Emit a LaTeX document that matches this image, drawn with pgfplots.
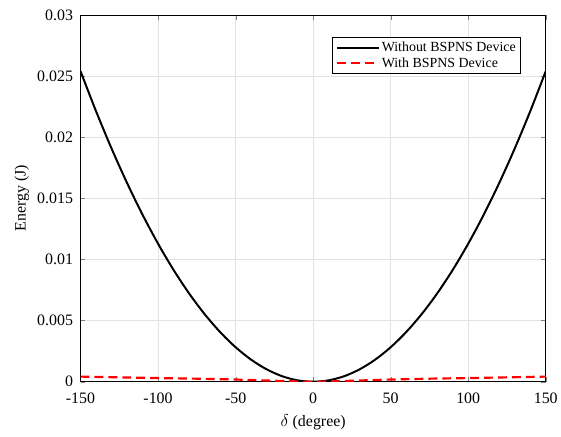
\documentclass[border=0pt]{standalone}
\usepackage{fontspec}
\setmainfont{Liberation Serif}
\usepackage{pgfplots}
\pgfplotsset{compat=1.18}

\begin{document}
\begin{tikzpicture}
  \begin{axis}[
    name=main,
    scale only axis,
    width=468pt, height=369pt,
    xmin=-150, xmax=150,
    ymin=0, ymax=0.03,
    xtick={-150,-100,...,150},
    ytick={0,0.005,...,0.03},
    yticklabels={0,0.005,0.01,0.015,0.02,0.025,0.03},
    /pgf/number format/assume math mode=true,
    tick label style={font=\fontsize{16}{18}\selectfont},
    xticklabel style={yshift=-8pt},
    yticklabel style={xshift=-4pt},
    xlabel={$\delta$ (degree)},
    ylabel={Energy (J)},
    every axis x label/.style={at={(axis description cs:0.5,0)}, anchor=center,
      yshift=-41pt, font=\fontsize{16}{18}\selectfont},
    every axis y label/.style={at={(axis description cs:0,0.5)}, rotate=90, anchor=center,
      yshift=59pt, font=\fontsize{16}{18}\selectfont},
    grid=major,
    major grid style={gray!22, line width=0.6pt},
    tick align=inside,
    major tick length=5pt,
    axis line style={line width=0.8pt},
    scaled y ticks=false,
    legend style={at={(0.947,0.94)}, anchor=north east,
      font=\fontsize{14}{16}\selectfont, draw=black, line width=0.8pt,
      inner xsep=3pt, inner ysep=3pt, row sep=0pt},
    legend cell align=left,
    legend image code/.code={\draw[#1] (0pt,0pt) -- (42pt,0pt);},
  ]
    \addplot [black, line width=2pt, smooth] coordinates {
      (-150,0.025400) (-140,0.022127) (-130,0.019078) (-120,0.016256)
      (-110,0.013660) (-100,0.011289) (-90,0.009144) (-80,0.007225)
      (-70,0.005532) (-60,0.004064) (-50,0.002822) (-40,0.001806)
      (-30,0.001016) (-20,0.000452) (-10,0.000113) (0,0)
      (10,0.000113) (20,0.000452) (30,0.001016) (40,0.001806)
      (50,0.002822) (60,0.004064) (70,0.005532) (80,0.007225)
      (90,0.009144) (100,0.011289) (110,0.013660) (120,0.016256)
      (130,0.019078) (140,0.022127) (150,0.025400)
    };
    \addplot [red, line width=2.2pt, dash pattern=on 9pt off 5pt, smooth] coordinates {
      (-150,0.00042) (-125,0.00036) (-100,0.00030) (-75,0.00025)
      (-50,0.00018) (-25,0.00008) (-10,0.00002) (0,0) (10,0.00002)
      (25,0.00008) (50,0.00018) (75,0.00025) (100,0.00030)
      (125,0.00036) (150,0.00042)
    };
    \legend{Without BSPNS Device, With BSPNS Device}
  \end{axis}
  \path ([xshift=-81pt, yshift=-55pt]main.south west) rectangle ([xshift=13pt, yshift=15pt]main.north east);
\end{tikzpicture}
\end{document}
